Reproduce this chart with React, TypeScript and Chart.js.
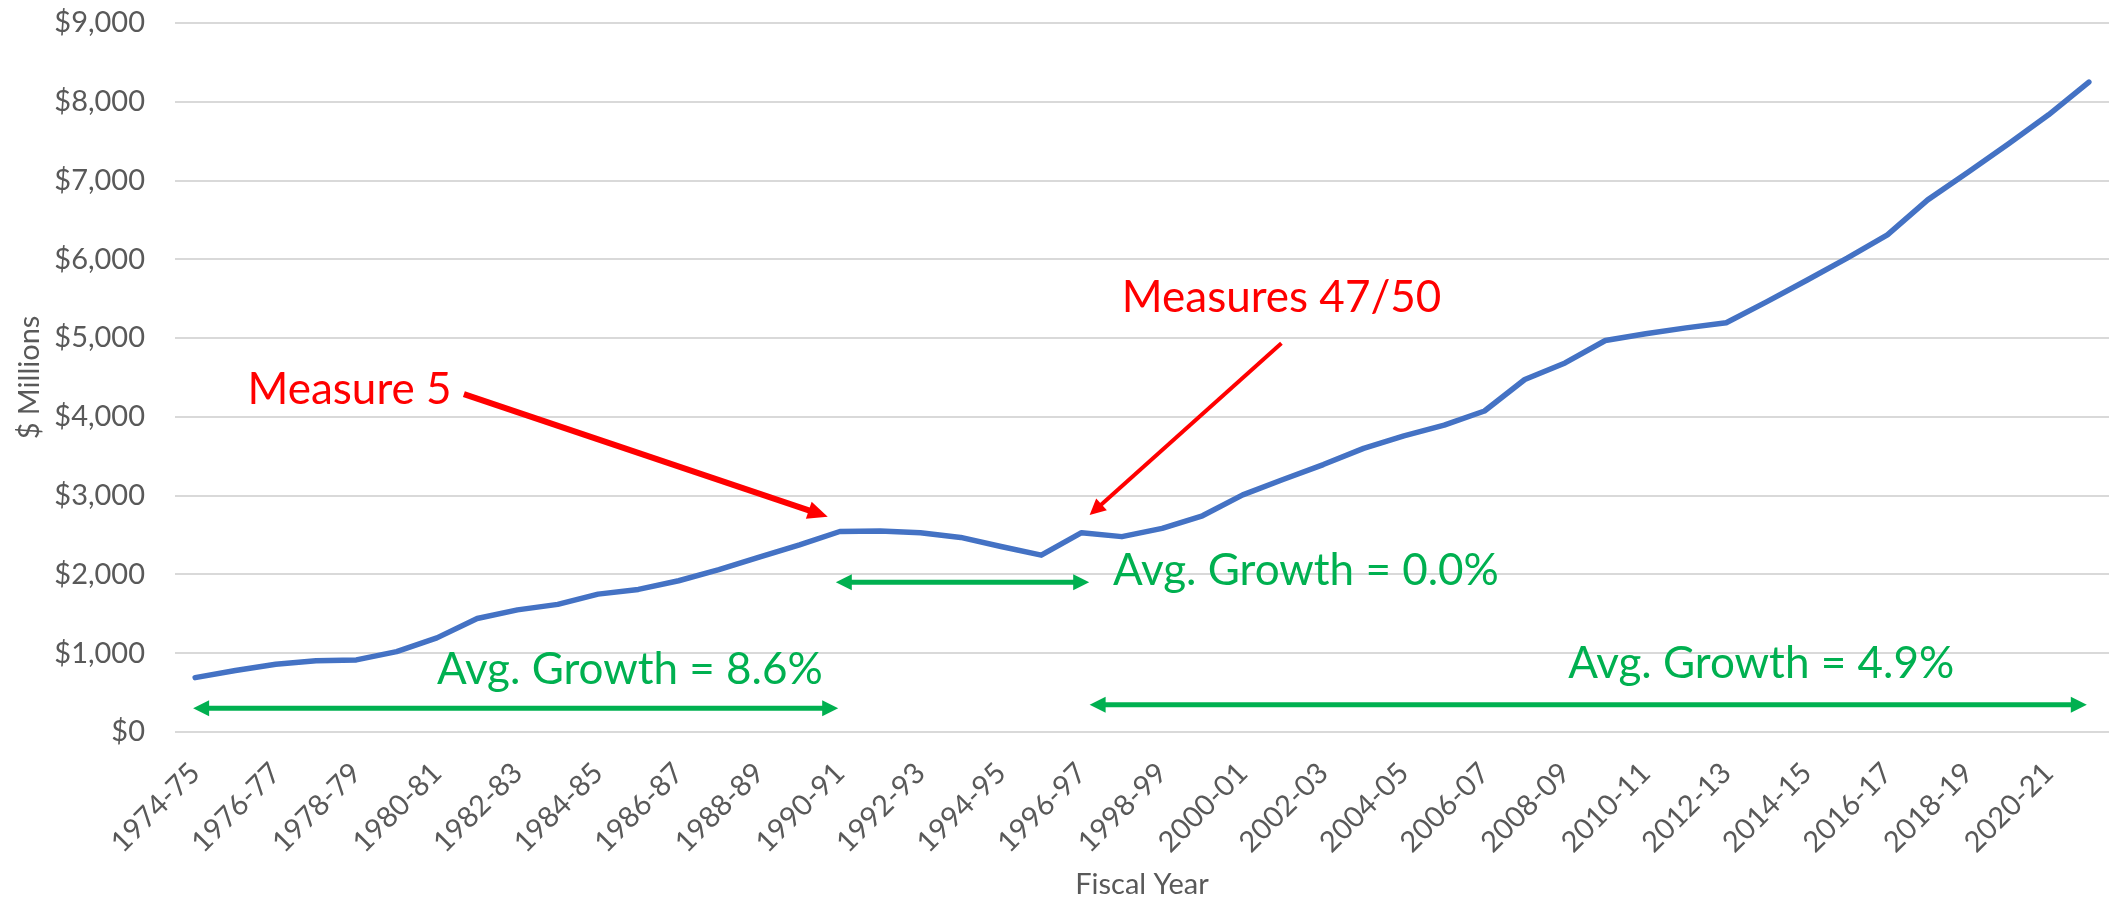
import React, { useEffect, useRef } from "react";
import { Chart, registerables } from "chart.js";

Chart.register(...registerables);

// ---- Data ----
const fiscalYears = [
  "1974-75", "1975-76", "1976-77", "1977-78", "1978-79", "1979-80", "1980-81", "1981-82",
  "1982-83", "1983-84", "1984-85", "1985-86", "1986-87", "1987-88", "1988-89", "1989-90",
  "1990-91", "1991-92", "1992-93", "1993-94", "1994-95", "1995-96", "1996-97", "1997-98",
  "1998-99", "1999-00", "2000-01", "2001-02", "2002-03", "2003-04", "2004-05", "2005-06",
  "2006-07", "2007-08", "2008-09", "2009-10", "2010-11", "2011-12", "2012-13", "2013-14",
  "2014-15", "2015-16", "2016-17", "2017-18", "2018-19", "2019-20", "2020-21", "2021-22",
];

const valuesMillions = [
  690, 780, 860, 905, 915, 1020, 1195, 1440,
  1550, 1620, 1750, 1810, 1920, 2060, 2220, 2375,
  2545, 2550, 2530, 2470, 2355, 2245, 2530, 2480,
  2585, 2745, 3010, 3205, 3395, 3600, 3760, 3895,
  4075, 4475, 4685, 4970, 5055, 5130, 5195, 5460,
  5735, 6015, 6310, 6755, 7105, 7465, 7835, 8250,
];

const yMin = 0;
const yMax = 9000;
const yStep = 1000;

// annotations in data space: x = category index, y = $ millions
const annotationTexts = [
  { text: "Measure 5", x: 1.3, y: 4160, color: "#FF0000" },
  { text: "Measures 47/50", x: 23.0, y: 5330, color: "#FF0000" },
  { text: "Avg. Growth = 8.6%", x: 6.0, y: 612, color: "#00B050" },
  { text: "Avg. Growth = 0.0%", x: 22.78, y: 1867, color: "#00B050" },
  { text: "Avg. Growth = 4.9%", x: 34.08, y: 684, color: "#00B050" },
];

const annotationArrows = [
  { x1: 6.67, y1: 4290, x2: 15.7, y2: 2733, color: "#FF0000", width: 6, both: false },
  { x1: 26.96, y1: 4934, x2: 22.2, y2: 2754, color: "#FF0000", width: 4, both: false },
  { x1: -0.05, y1: 300, x2: 15.96, y2: 300, color: "#00B050", width: 5, both: true },
  { x1: 15.9, y1: 1900, x2: 22.19, y2: 1900, color: "#00B050", width: 5, both: true },
  { x1: 22.2, y1: 345, x2: 46.95, y2: 345, color: "#00B050", width: 5, both: true },
];

const FONT = "Lato";

function drawHead(ctx: CanvasRenderingContext2D, tx: number, ty: number, ux: number, uy: number, len: number, half: number, color: string) {
  const bx = tx - ux * len;
  const by = ty - uy * len;
  const px = -uy;
  const py = ux;
  ctx.beginPath();
  ctx.moveTo(tx, ty);
  ctx.lineTo(bx + px * half, by + py * half);
  ctx.lineTo(bx - px * half, by - py * half);
  ctx.closePath();
  ctx.fillStyle = color;
  ctx.fill();
}

const annotationPlugin = {
  id: "annotationsCustom",
  afterDatasetsDraw(chart: any) {
    const ctx: CanvasRenderingContext2D = chart.ctx;
    const xs = chart.scales.x;
    const ys = chart.scales.y;
    ctx.save();
    annotationArrows.forEach((a) => {
      const x1 = xs.getPixelForValue(a.x1);
      const y1 = ys.getPixelForValue(a.y1);
      const x2 = xs.getPixelForValue(a.x2);
      const y2 = ys.getPixelForValue(a.y2);
      const dx = x2 - x1;
      const dy = y2 - y1;
      const L = Math.hypot(dx, dy);
      const ux = dx / L;
      const uy = dy / L;
      const headLen = a.width >= 6 ? 20 : 16;
      const headHalf = a.width >= 6 ? 9 : 8;
      const sx = a.both ? x1 + ux * headLen * 0.8 : x1;
      const sy = a.both ? y1 + uy * headLen * 0.8 : y1;
      ctx.beginPath();
      ctx.moveTo(sx, sy);
      ctx.lineTo(x2 - ux * headLen * 0.8, y2 - uy * headLen * 0.8);
      ctx.strokeStyle = a.color;
      ctx.lineWidth = a.width;
      ctx.lineCap = "butt";
      ctx.stroke();
      drawHead(ctx, x2, y2, ux, uy, headLen, headHalf, a.color);
      if (a.both) drawHead(ctx, x1, y1, -ux, -uy, headLen, headHalf, a.color);
    });
    ctx.font = `44px ${FONT}`;
    ctx.textAlign = "left";
    ctx.textBaseline = "alphabetic";
    annotationTexts.forEach((t) => {
      ctx.fillStyle = t.color;
      ctx.fillText(t.text, xs.getPixelForValue(t.x), ys.getPixelForValue(t.y));
    });
    ctx.restore();
  },
};

export default function App() {
  const canvasRef = useRef<HTMLCanvasElement | null>(null);

  useEffect(() => {
    if (!canvasRef.current) return;
    const chart = new Chart(canvasRef.current, {
      type: "line",
      data: {
        labels: fiscalYears,
        datasets: [
          {
            label: "Revenue",
            data: valuesMillions,
            borderColor: "#4472C4",
            backgroundColor: "#4472C4",
            borderWidth: 5.5,
            pointRadius: 0,
            pointHoverRadius: 0,
            tension: 0,
            borderCapStyle: "round",
            borderJoinStyle: "round",
            fill: false,
          },
        ],
      },
      options: {
        responsive: false,
        animation: false,
        devicePixelRatio: 1,
        layout: { padding: { top: 23, right: 2, left: 0, bottom: 0 } },
        plugins: {
          legend: { display: false },
          tooltip: { enabled: false },
          title: { display: false },
        },
        scales: {
          x: {
            type: "category",
            offset: true,
            grid: { display: false, drawTicks: false, tickLength: 0 },
            border: { display: false },
            ticks: {
              autoSkip: false,
              minRotation: 45,
              maxRotation: 45,
              padding: 24,
              color: "#595959",
              font: { family: FONT, size: 29 },
              callback: (_v: any, idx: number) => (idx % 2 === 0 ? fiscalYears[idx] : ""),
            },
            title: {
              display: true,
              text: "Fiscal Year",
              color: "#595959",
              font: { family: FONT, size: 29, lineHeight: 1 },
              padding: { top: 0, bottom: 0 },
            },
            afterFit: (scale: any) => {
              scale.height = 167;
              scale.paddingLeft = 0;
              scale.paddingRight = 0;
            },
          },
          y: {
            min: yMin,
            max: yMax,
            grid: { color: "#D9D9D9", lineWidth: 2, drawTicks: false, tickLength: 0 },
            border: { display: false },
            ticks: {
              stepSize: yStep,
              padding: 30,
              color: "#595959",
              font: { family: FONT, size: 29 },
              callback: (v: any) => "$" + Number(v).toLocaleString("en-US"),
            },
            title: {
              display: true,
              text: "$ Millions",
              color: "#595959",
              font: { family: FONT, size: 29, lineHeight: 1.2 },
              padding: { top: 12, bottom: 0 },
            },
            afterFit: (scale: any) => {
              scale.width = 175;
              scale.paddingTop = 0;
              scale.paddingBottom = 0;
            },
          },
        },
      },
      plugins: [annotationPlugin],
    });
    return () => chart.destroy();
  }, []);

  return (
    <div style={{ position: "fixed", left: 0, top: 0, width: 2111, height: 899, background: "#ffffff" }}>
      <canvas ref={canvasRef} width={2111} height={899} style={{ width: 2111, height: 899, display: "block" }} />
    </div>
  );
}
